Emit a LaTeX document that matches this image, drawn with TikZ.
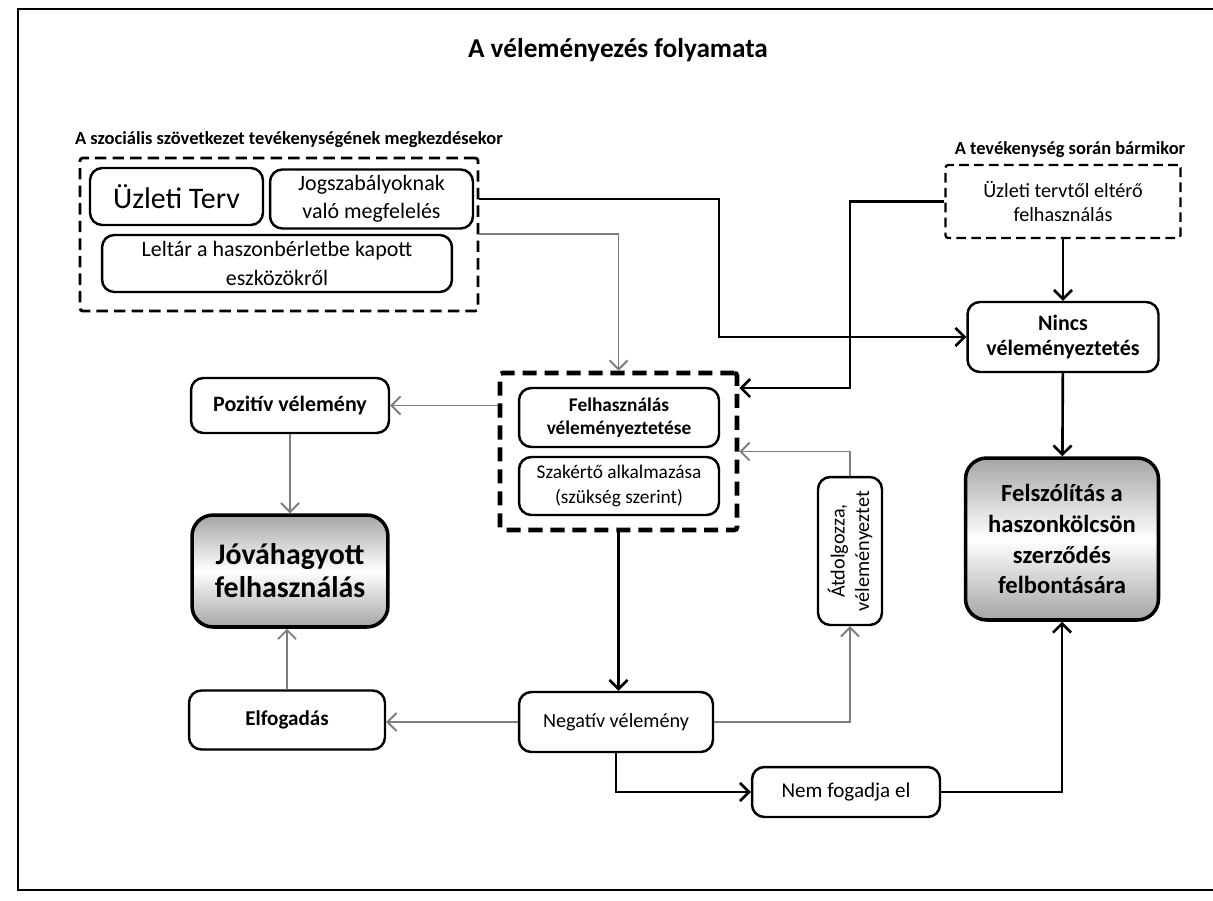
\documentclass[tikz,border=0pt]{standalone}
\usepackage{fontspec}
\setmainfont{Carlito}
\usepackage{tikz}
\usetikzlibrary{positioning}
\usetikzlibrary{arrows.meta}
\usetikzlibrary{calc}
\definecolor{mygray}{RGB}{125,125,125}
\definecolor{myshade}{RGB}{165,165,165}

\begin{document}
\begin{tikzpicture}[x=0.02cm,y=-0.02cm]
	\useasboundingbox (0,0) rectangle (1213,900);
	% keret
	\draw[line width=0.8pt] (1213,9) -- (18,9) -- (18,890) -- (1213,890);

	\node (title) at (618,50) {\fontsize{15.5}{18}\selectfont\bfseries A véleményezés folyamata};
	\node (lblleft) at (289,140) {\fontsize{10.5}{12}\selectfont\bfseries A szociális szövetkezet tevékenységének megkezdésekor};
	\node (lblright) at (1070,150) {\fontsize{10.5}{12}\selectfont\bfseries A tevékenység során bármikor};

	% szaggatott csoportok
	\begin{scope}[every node/.style={draw, fill=white, rounded corners=1.5pt}]
	    \node (startgrp) [line width=1.6pt, dash pattern=on 6.5pt off 3.5pt,
	                      minimum width=7.96cm, minimum height=3.06cm] at (279,234.5) {};
	    \node (velgrp) [line width=2.6pt, dash pattern=on 8pt off 4.5pt,
	                    minimum width=4.74cm, minimum height=3.14cm] at (618.5,451.5) {};
	    \node (elter) [line width=1.3pt, dash pattern=on 5.5pt off 3pt, align=center,
	                   minimum width=4.7cm, minimum height=1.46cm,
	                   font=\fontsize{11.5}{14}\selectfont] at (1063,201.5) {Üzleti tervtől eltérő\\felhasználás};
	\end{scope}

	% dobozok
	\begin{scope}[every node/.style={draw, fill=white, line width=1.4pt, rounded corners=7pt,
	                                 align=center, inner sep=2pt}]
	    \node (terv) [minimum width=3.46cm, minimum height=1.14cm,
	                  font=\fontsize{17}{20}\selectfont] at (176.5,196.5) {Üzleti Terv};
	    \node (jog) [minimum width=4.06cm, minimum height=1.18cm,
	                 font=\fontsize{12.5}{16}\selectfont] at (371.5,199) {Jogszabályoknak\\való megfelelés};
	    \node (leltar) [minimum width=7cm, minimum height=1.14cm,
	                    font=\fontsize{12.5}{16}\selectfont] at (277,263.5) {Leltár a haszonbérletbe kapott\\eszközökről};
	    \node (nincs) [minimum width=3.82cm, minimum height=1.4cm,
	                   font=\fontsize{12.5}{14.7}\selectfont\bfseries] at (1063,337) {Nincs\\véleményeztetés};
	    \node (felh) [minimum width=4cm, minimum height=1.18cm,
	                  font=\fontsize{11}{13}\selectfont\bfseries] at (619,417.5) {Felhasználás\\véleményeztetése};
	    \node (szak) [minimum width=4cm, minimum height=1.16cm,
	                  font=\fontsize{11}{14}\selectfont] at (619,486) {Szakértő alkalmazása\\(szükség szerint)};
	    \node (pozitiv) [minimum width=3.96cm, minimum height=1.1cm,
	                     font=\fontsize{12.5}{15}\selectfont\bfseries] at (290,405.5) {Pozitív vélemény};
	    \node (elfog) [minimum width=3.92cm, minimum height=1.18cm,
	                   font=\fontsize{12}{14}\selectfont\bfseries] at (287,720) {Elfogadás};
	    \node (negativ) [minimum width=3.88cm, minimum height=1.2cm,
	                     font=\fontsize{11.5}{14}\selectfont] at (616,722) {Negatív vélemény};
	    \node (nemfog) [minimum width=3.76cm, minimum height=1cm,
	                    font=\fontsize{12}{14}\selectfont] at (846,792) {Nem fogadja el};
	    \node (atdolg) [rotate=90, minimum width=2.96cm, minimum height=1.28cm,
	                    font=\fontsize{11.5}{14}\selectfont] at (850,551) {Átdolgozza,\\véleményeztet};
	\end{scope}

	% árnyalt végeredmények
	\begin{scope}[every node/.style={draw, line width=2pt, rounded corners=12pt, align=center,
	                                 top color=myshade, bottom color=myshade, middle color=white}]
	    \node (jovahagy) [minimum width=3.92cm, minimum height=2.24cm,
	                      font=\fontsize{17}{18.8}\selectfont\bfseries] at (290,571) {Jóváhagyott\\felhasználás};
	    \node (felszol) [minimum width=3.86cm, minimum height=3.24cm,
	                     font=\fontsize{14}{17.6}\selectfont\bfseries] at (1062,539) {Felszólítás a\\haszonkölcsön\\szerződés\\felbontására};
	\end{scope}

	% nyilak
	\coordinate (bendA) at (719,337);
	\coordinate (bendB) at (850,388);
	\begin{scope}[>={Straight Barb[length=1.8mm,width=3.6mm]},
	              mainflow/.style={draw=black, line width=1.5pt, ->},
	              sideflow/.style={draw=mygray, line width=1.1pt, ->}]
	    \draw[mainflow] (startgrp.east |- jog) -| (bendA) -- (nincs);
	    \draw[sideflow] (startgrp.east |- leltar.north) -| (velgrp.north);
	    \draw[mainflow] (elter.west) -| (bendB) -- (velgrp.east |- bendB);
	    \draw[mainflow] (elter) -- (nincs);
	    \draw[mainflow] (nincs) -- (felszol);
	    \draw[sideflow] (velgrp.west |- pozitiv) -- (pozitiv.east);
	    \draw[sideflow] (pozitiv) -- (jovahagy);
	    \draw[mainflow] (velgrp.south) -- (velgrp.south |- negativ.north);
	    \draw[sideflow] (negativ.west) -- (negativ.west -| elfog.east);
	    \draw[sideflow] (elfog.north) -- (elfog.north |- jovahagy.south);
	    \draw[sideflow] (negativ.east) -| (atdolg.west);
	    \draw[sideflow] (atdolg.east) |- (velgrp.east);
	    \draw[mainflow] (negativ.south) |- (nemfog.west);
	    \draw[mainflow] (nemfog.east) -| (felszol.south);
	\end{scope}
\end{tikzpicture}
\end{document}
